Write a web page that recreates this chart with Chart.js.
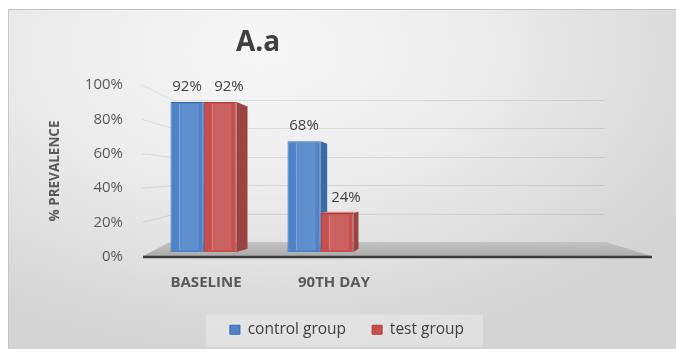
<!DOCTYPE html>
<html><head><meta charset="utf-8">
<script src="https://cdn.jsdelivr.net/npm/chart.js@4"></script>
<style>
html,body{margin:0;padding:0;background:#fff;overflow:hidden;}
#frame{position:absolute;left:8px;top:9px;width:668px;height:340px;box-sizing:border-box;border-top:1px solid #c2c2c2;border-left:1px solid #c6c6c6;
background:radial-gradient(ellipse 75% 90% at 38% 12%, #f7f7f7 0%, #ececec 45%, #dcdcdc 80%, #d4d4d4 100%);}
#wrap{position:absolute;left:0;top:0;width:676px;height:349px;}
</style></head><body>
<div id="frame"></div>
<div id="wrap"><canvas id="c"></canvas></div>
<script>
const categories = ['BASELINE', '90TH DAY'];
const seriesNames = ['control group', 'test group'];
const controlValues = [92, 68];
const testValues = [92, 24];
const yTickValues = [0, 20, 40, 60, 80, 100];

const FONT = "'Open Sans', sans-serif";
const faceColors = ['#4f83c9', '#c6504e'];
const edgeColors = ['#3567ad', '#a8403e'];
const sideColors = ['#3c69a8', '#9a4341'];
const topColors = ['#7aa5de', '#dc8583'];
const labelDx = [0, 9];

const VX = 450, VY = 190, DEPTH = 0.0516;

const titlePlace = {
  id: 'titlePlace',
  afterLayout(chart) {
    const t = chart.titleBlock;
    if (t) { const cx = 258; t.left = cx - 70; t.right = cx + 70; }
  }
};

const backdrop = {
  id: 'backdrop',
  beforeDatasetsDraw(chart) {
    const ctx = chart.ctx, a = chart.chartArea, ys = chart.scales.y;
    const floorBack = a.bottom - 15;
    const ratio = 142 / 172;
    const bl = a.left + 28, br = a.right - 47;
    ctx.save();
    ctx.strokeStyle = 'rgba(0,0,0,0.09)';
    ctx.lineWidth = 1;
    ys.ticks.forEach(t => {
      if (t.value === 0) return;
      const fy = ys.getPixelForValue(t.value);
      const by = Math.round(floorBack + (fy - a.bottom) * ratio) + 0.5;
      ctx.beginPath();
      ctx.moveTo(a.left - 3, fy);
      ctx.lineTo(bl, by);
      ctx.lineTo(br, by);
      ctx.stroke();
    });
    const g = ctx.createLinearGradient(0, floorBack, 0, a.bottom);
    g.addColorStop(0, '#c4c4c4');
    g.addColorStop(1, '#a9a9a9');
    ctx.fillStyle = g;
    ctx.beginPath();
    ctx.moveTo(a.left - 2, a.bottom - 1);
    ctx.lineTo(a.right, a.bottom - 1);
    ctx.lineTo(a.right - 45, floorBack);
    ctx.lineTo(a.left + 25, floorBack);
    ctx.closePath();
    ctx.fill();
    ctx.strokeStyle = '#3c3c3c';
    ctx.lineWidth = 2.5;
    ctx.beginPath();
    ctx.moveTo(a.left - 2, a.bottom);
    ctx.lineTo(a.right + 1, a.bottom);
    ctx.stroke();
    chart.data.datasets.forEach((ds, di) => {
      const meta = chart.getDatasetMeta(di);
      meta.data.forEach(bar => {
        const p = bar.getProps(['x', 'y', 'base', 'width'], true);
        const left = p.x - p.width / 2, right = p.x + p.width / 2;
        const top = p.y, base = p.base;
        const brx = right + (VX - right) * DEPTH;
        const blx = left + (VX - left) * DEPTH;
        const bty = top + (VY - top) * DEPTH;
        const bby = base + (VY - base) * DEPTH;
        if (bty < top) {
          ctx.fillStyle = topColors[di];
          ctx.beginPath();
          ctx.moveTo(left, top); ctx.lineTo(right, top); ctx.lineTo(brx, bty); ctx.lineTo(blx, bty);
          ctx.closePath(); ctx.fill();
        }
        ctx.fillStyle = sideColors[di];
        ctx.beginPath();
        ctx.moveTo(right, top); ctx.lineTo(brx, bty); ctx.lineTo(brx, bby); ctx.lineTo(right, base);
        ctx.closePath(); ctx.fill();
      });
    });
    ctx.restore();
  },
  afterDatasetsDraw(chart) {
    const ctx = chart.ctx;
    ctx.save();
    chart.data.datasets.forEach((ds, di) => {
      const meta = chart.getDatasetMeta(di);
      meta.data.forEach((bar, i) => {
        const p = bar.getProps(['x', 'y', 'base', 'width'], true);
        const left = p.x - p.width / 2;
        const h = p.base - p.y;
        ctx.fillStyle = 'rgba(255,255,255,0.10)';
        ctx.fillRect(left + p.width * 0.25, p.y + 2, p.width * 0.6, h - 4);
        ctx.strokeStyle = 'rgba(255,255,255,0.18)';
        ctx.lineWidth = 1;
        ctx.beginPath();
        ctx.moveTo(Math.round(left + p.width * 0.25) + 0.5, p.y + 2);
        ctx.lineTo(Math.round(left + p.width * 0.25) + 0.5, p.base - 2);
        ctx.stroke();
        const v = ds.data[i].y;
        ctx.fillStyle = '#404040';
        ctx.font = '15px ' + FONT;
        ctx.textAlign = 'center';
        ctx.textBaseline = 'middle';
        ctx.fillText(v + '%', p.x + labelDx[di], p.y - 15);
      });
    });
    ctx.restore();
  },
  beforeDraw(chart) {
    const lg = chart.legend;
    if (!lg || !lg.legendHitBoxes || !lg.legendHitBoxes.length) return;
    const hb = lg.legendHitBoxes;
    const first = hb[0], last = hb[hb.length - 1];
    const ctx = chart.ctx;
    const cy = first.top + first.height / 2;
    ctx.save();
    ctx.fillStyle = 'rgba(255,255,255,0.28)';
    ctx.fillRect(first.left - 24, cy - 15, (last.left + last.width + 19) - (first.left - 24), 32);
    ctx.restore();
  }
};

new Chart(document.getElementById('c'), {
  type: 'bar',
  data: {
    datasets: [
      { label: seriesNames[0], data: controlValues.map((v, i) => ({ x: i, y: v })),
        backgroundColor: faceColors[0], borderColor: edgeColors[0], borderWidth: 1,
        xAxisID: 'x', yAxisID: 'yb' },
      { label: seriesNames[1], data: testValues.map((v, i) => ({ x: i, y: v })),
        backgroundColor: faceColors[1], borderColor: edgeColors[1], borderWidth: 1,
        xAxisID: 'x', yAxisID: 'yb' }
    ]
  },
  options: {
    responsive: true,
    maintainAspectRatio: false,
    animation: false,
    devicePixelRatio: 1,
    categoryPercentage: 0.564,
    barPercentage: 1,
    layout: { padding: { top: 26, left: 43, right: 25, bottom: 1.5 } },
    scales: {
      x: { type: 'linear', display: false, offset: false, min: -0.5, max: 3.8248,
           afterBuildTicks: s => { s.ticks = categories.map((c, i) => ({ value: i })); } },
      xl: { type: 'linear', position: 'bottom', offset: false, min: -0.4766, max: 3.4766,
            afterBuildTicks: s => { s.ticks = categories.map((c, i) => ({ value: i })); },
            ticks: { callback: v => categories[v] ?? '', autoSkip: false, maxRotation: 0,
                     font: { family: FONT, size: 15, weight: 'bold' }, color: '#595959', padding: 17 },
            grid: { display: false, drawTicks: false, offset: false }, border: { display: false },
            afterFit: s => { s.height = 39; } },
      y: { type: 'linear', position: 'left', min: 0, max: 100,
           afterBuildTicks: s => { s.ticks = yTickValues.map(v => ({ value: v })); },
           ticks: { callback: v => v + '%', font: { family: FONT, size: 15 }, color: '#595959', padding: 22 },
           grid: { display: false, drawTicks: false }, border: { display: false },
           title: { display: true, text: '% PREVALENCE', color: '#595959',
                    font: { family: FONT, size: 13.5, weight: 'bold' } },
           afterFit: s => { s.width = 102; } },
      yb: { type: 'linear', display: false, min: -3.067, max: 102.45 }
    },
    plugins: {
      title: { display: true, text: 'A.a', color: '#404040', align: 'center',
               font: { family: FONT, size: 28, weight: 'bold' }, padding: { top: 0, bottom: 25.4 } },
      legend: { display: true, position: 'bottom',
                labels: { boxWidth: 10, boxHeight: 9, padding: 26, color: '#404040',
                          font: { family: FONT, size: 15.5 } } },
      tooltip: { enabled: false }
    }
  },
  plugins: [titlePlace, backdrop]
});
</script>
</body></html>
